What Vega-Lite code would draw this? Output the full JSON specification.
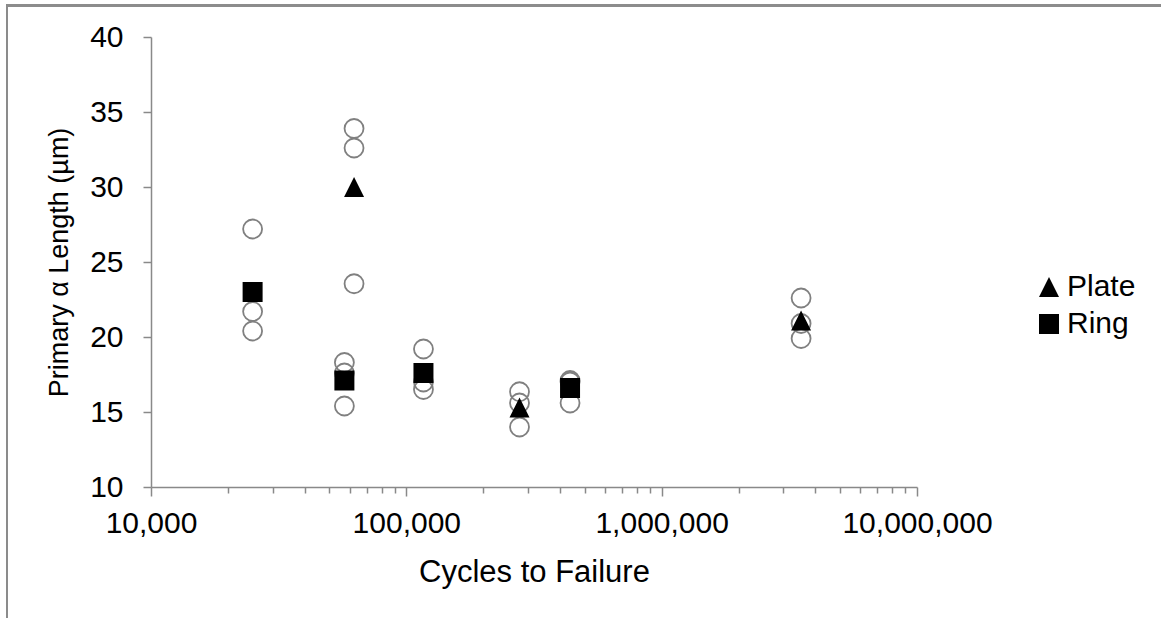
{
  "$schema": "https://vega.github.io/schema/vega-lite/v6.json",
  "width": 766,
  "height": 450,
  "autosize": {"type": "none"},
  "padding": {"left": 151, "top": 37, "right": 244, "bottom": 131},
  "background": "white",
  "config": {
    "view": {"stroke": null},
    "font": "Liberation Sans",
    "axis": {
      "grid": false,
      "domainColor": "#898989",
      "tickColor": "#898989",
      "domainWidth": 1.5,
      "tickWidth": 1.5,
      "labelColor": "black",
      "labelFontSize": 30,
      "titleColor": "black",
      "titleFontSize": 30,
      "titleFontWeight": "normal",
      "labelFlush": false,
      "labelOverlap": false
    }
  },
  "data": {
    "values": [
      {"cycles": 25000, "length": 23.0, "kind": "mean", "type": "Ring"},
      {"cycles": 25000, "length": 27.2, "kind": "individual", "type": "Ring"},
      {"cycles": 25000, "length": 21.7, "kind": "individual", "type": "Ring"},
      {"cycles": 25000, "length": 20.4, "kind": "individual", "type": "Ring"},
      {"cycles": 62400, "length": 30.0, "kind": "mean", "type": "Plate"},
      {"cycles": 62400, "length": 33.9, "kind": "individual", "type": "Plate"},
      {"cycles": 62400, "length": 32.6, "kind": "individual", "type": "Plate"},
      {"cycles": 62400, "length": 23.55, "kind": "individual", "type": "Plate"},
      {"cycles": 57200, "length": 17.1, "kind": "mean", "type": "Ring"},
      {"cycles": 57200, "length": 18.3, "kind": "individual", "type": "Ring"},
      {"cycles": 57200, "length": 17.6, "kind": "individual", "type": "Ring"},
      {"cycles": 57200, "length": 15.4, "kind": "individual", "type": "Ring"},
      {"cycles": 116700, "length": 17.6, "kind": "mean", "type": "Ring"},
      {"cycles": 116700, "length": 19.2, "kind": "individual", "type": "Ring"},
      {"cycles": 116700, "length": 17.0, "kind": "individual", "type": "Ring"},
      {"cycles": 116700, "length": 16.5, "kind": "individual", "type": "Ring"},
      {"cycles": 277500, "length": 15.3, "kind": "mean", "type": "Plate"},
      {"cycles": 277500, "length": 16.35, "kind": "individual", "type": "Plate"},
      {"cycles": 277500, "length": 15.6, "kind": "individual", "type": "Plate"},
      {"cycles": 277500, "length": 14.0, "kind": "individual", "type": "Plate"},
      {"cycles": 437700, "length": 16.6, "kind": "mean", "type": "Ring"},
      {"cycles": 437700, "length": 17.1, "kind": "individual", "type": "Ring"},
      {"cycles": 437700, "length": 17.0, "kind": "individual", "type": "Ring"},
      {"cycles": 437700, "length": 15.6, "kind": "individual", "type": "Ring"},
      {"cycles": 3516000, "length": 21.1, "kind": "mean", "type": "Plate"},
      {"cycles": 3516000, "length": 22.6, "kind": "individual", "type": "Plate"},
      {"cycles": 3516000, "length": 20.9, "kind": "individual", "type": "Plate"},
      {"cycles": 3516000, "length": 19.9, "kind": "individual", "type": "Plate"}
    ]
  },
  "layer": [
    {
      "transform": [{"filter": "datum.kind === 'individual'"}],
      "mark": {"type": "point", "shape": "circle", "filled": false, "strokeWidth": 1.8, "size": 360, "opacity": 1},
      "encoding": {
        "x": {
          "field": "cycles", "type": "quantitative",
          "scale": {"type": "log", "domain": [10000, 10000000], "nice": false},
          "axis": {
            "title": "Cycles to Failure",
            "titleFontSize": 31,
            "values": [10000, 20000, 30000, 40000, 50000, 60000, 70000, 80000, 90000, 100000, 200000, 300000, 400000, 500000, 600000, 700000, 800000, 900000, 1000000, 2000000, 3000000, 4000000, 5000000, 6000000, 7000000, 8000000, 9000000, 10000000],
            "labelExpr": "indexof([10000,100000,1000000,10000000], datum.value) >= 0 ? format(datum.value, ',') : ''",
            "tickSize": {"condition": {"test": "indexof([10000,100000,1000000,10000000], datum.value) >= 0", "value": 9}, "value": 6},
            "labelPadding": 12,
            "titlePadding": 19
          }
        },
        "y": {
          "field": "length", "type": "quantitative",
          "scale": {"domain": [10, 40], "nice": false, "zero": false},
          "axis": {
            "title": "Primary α Length (µm)",
            "titleFontSize": 27,
            "values": [10, 15, 20, 25, 30, 35, 40],
            "tickSize": 8,
            "labelPadding": 20,
            "titlePadding": 16
          }
        },
        "color": {"value": "#808080"}
      }
    },
    {
      "transform": [{"filter": "datum.kind === 'mean'"}],
      "mark": {"type": "point", "filled": true, "size": 400, "opacity": 1},
      "encoding": {
        "x": {"field": "cycles", "type": "quantitative", "title": "Cycles to Failure"},
        "y": {"field": "length", "type": "quantitative", "title": "Primary α Length (µm)"},
        "color": {"value": "black"},
        "shape": {
          "field": "type", "type": "nominal",
          "scale": {"domain": ["Plate", "Ring"], "range": ["M0,-1L1,1L-1,1Z", "square"]},
          "legend": {
            "orient": "none",
            "legendX": 883,
            "legendY": 235,
            "title": null,
            "padding": 0,
            "labelFontSize": 30,
            "labelColor": "black",
            "labelOffset": 3,
            "symbolSize": 400,
            "symbolFillColor": "black",
            "symbolStrokeWidth": 0,
            "rowPadding": 7
          }
        }
      }
    },
    {
      "mark": {"type": "rect", "filled": false, "stroke": "#8c8c8c", "strokeWidth": 1.5, "clip": false},
      "encoding": {
        "x": {"datum": 2729, "type": "quantitative", "title": "Cycles to Failure"},
        "x2": {"datum": 94000000},
        "y": {"datum": 42.1, "type": "quantitative", "title": "Primary α Length (µm)"},
        "y2": {"datum": -2}
      }
    }
  ]
}
